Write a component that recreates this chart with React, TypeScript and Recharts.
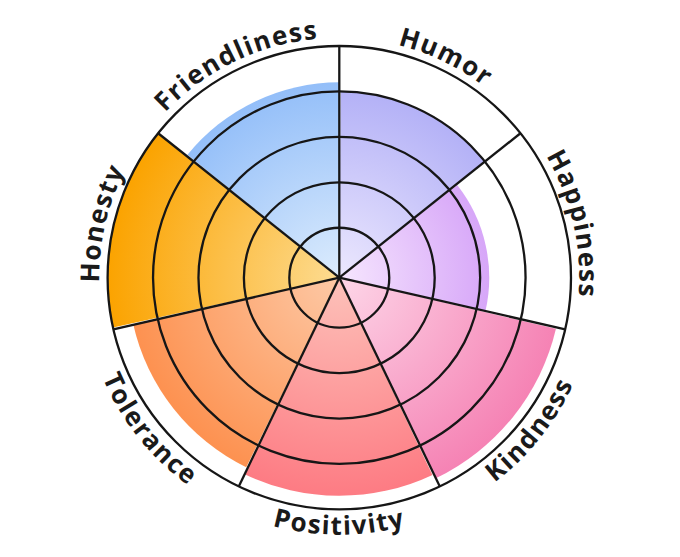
import React from 'react';
import {
  RadialBarChart,
  RadialBar,
  PolarAngleAxis,
  PolarRadiusAxis,
  PolarGrid,
  Cell,
} from 'recharts';

// traits go clockwise from 12 o'clock
const traits = ['Humor', 'Happiness', 'Kindness', 'Positivity', 'Tolerance', 'Honesty', 'Friendliness'];
const scores = [4.0, 3.2, 4.8, 4.7, 4.55, 5.0, 4.2];
const ringTicks = [1, 2, 3, 4, 5];
const innerColors = ['#ece8fe', '#f6e6fe', '#fdd6e8', '#fdc2ba', '#fdc9a6', '#fddc92', '#dcecfd'];
const outerColors = ['#a6a4f5', '#c684f5', '#f57fb2', '#fd7780', '#fd8c48', '#fba300', '#86b6f8'];

const data = traits.map((name, i) => ({ name, score: scores[i] }));

const W = 664;
const H = 541;
const CX = 331.3;
const CY = 269.7;
const OUTER = 231.7;
const FLOOR = -0.1; // the rings start a little off the centre
const STEP = 360 / traits.length;

const CurvedTick = (props: any) => {
  const { payload, index } = props;
  const angle = payload.coordinate + STEP / 2;
  const upper = Math.sin((angle * Math.PI) / 180) > 0;
  const r = upper ? 240 : 257;
  const span = 50;
  const pt = (a: number) => {
    const rad = (-a * Math.PI) / 180;
    return [CX + r * Math.cos(rad), CY + r * Math.sin(rad)];
  };
  const [sx, sy] = upper ? pt(angle + span) : pt(angle - span);
  const [ex, ey] = upper ? pt(angle - span) : pt(angle + span);
  const id = `trait-arc-${index}`;
  const d = `M ${sx} ${sy} A ${r} ${r} 0 0 ${upper ? 1 : 0} ${ex} ${ey}`;
  return (
    <g>
      <path id={id} d={d} fill="none" stroke="none" />
      <text
        fontFamily="'Open Sans', sans-serif"
        fontWeight={700}
        fontSize={26}
        fill="#1a1a1a"
        letterSpacing={1.4}
      >
        <textPath href={`#${id}`} startOffset="50%" textAnchor="middle">
          {payload.value}
        </textPath>
      </text>
    </g>
  );
};

const chartProps = {
  width: W,
  height: H,
  data,
  layout: 'centric' as const,
  cx: CX,
  cy: CY,
  innerRadius: 0,
  outerRadius: OUTER,
  startAngle: 90 - STEP,
  endAngle: -270 - STEP,
  barCategoryGap: 0,
  barGap: 0,
};

export default function App() {
  return (
    <div style={{ position: 'relative', width: W, height: H }}>
      <div style={{ position: 'absolute', left: 0, top: 0 }}>
        <RadialBarChart {...chartProps}>
          <defs>
            {traits.map((t, i) => (
              <radialGradient
                key={t}
                id={`trait-grad-${i}`}
                gradientUnits="userSpaceOnUse"
                cx={CX}
                cy={CY}
                r={OUTER}
              >
                <stop offset="0%" stopColor={innerColors[i]} />
                <stop offset="100%" stopColor={outerColors[i]} />
              </radialGradient>
            ))}
          </defs>
          <PolarAngleAxis
            type="category"
            dataKey="name"
            axisLine={false}
            tickLine={false}
            tick={<CurvedTick />}
          />
          <PolarRadiusAxis type="number" domain={[FLOOR, 5]} ticks={ringTicks} tick={false} axisLine={false} />
          <RadialBar dataKey={(d: any) => [FLOOR, d.score]} isAnimationActive={false} stroke="none">
            {data.map((d, i) => (
              <Cell key={d.name} fill={`url(#trait-grad-${i})`} />
            ))}
          </RadialBar>
        </RadialBarChart>
      </div>
      {/* grid goes on top of the sectors */}
      <div style={{ position: 'absolute', left: 0, top: 0, pointerEvents: 'none' }}>
        <RadialBarChart {...chartProps}>
          <PolarAngleAxis type="category" dataKey="name" axisLine={false} tickLine={false} tick={false} />
          <PolarRadiusAxis type="number" domain={[FLOOR, 5]} ticks={ringTicks} tick={false} axisLine={false} />
          <RadialBar dataKey={(d: any) => [FLOOR, d.score]} isAnimationActive={false} fill="none" stroke="none" />
          <PolarGrid gridType="circle" stroke="#161616" strokeWidth={2.3} strokeOpacity={1} />
        </RadialBarChart>
      </div>
    </div>
  );
}
